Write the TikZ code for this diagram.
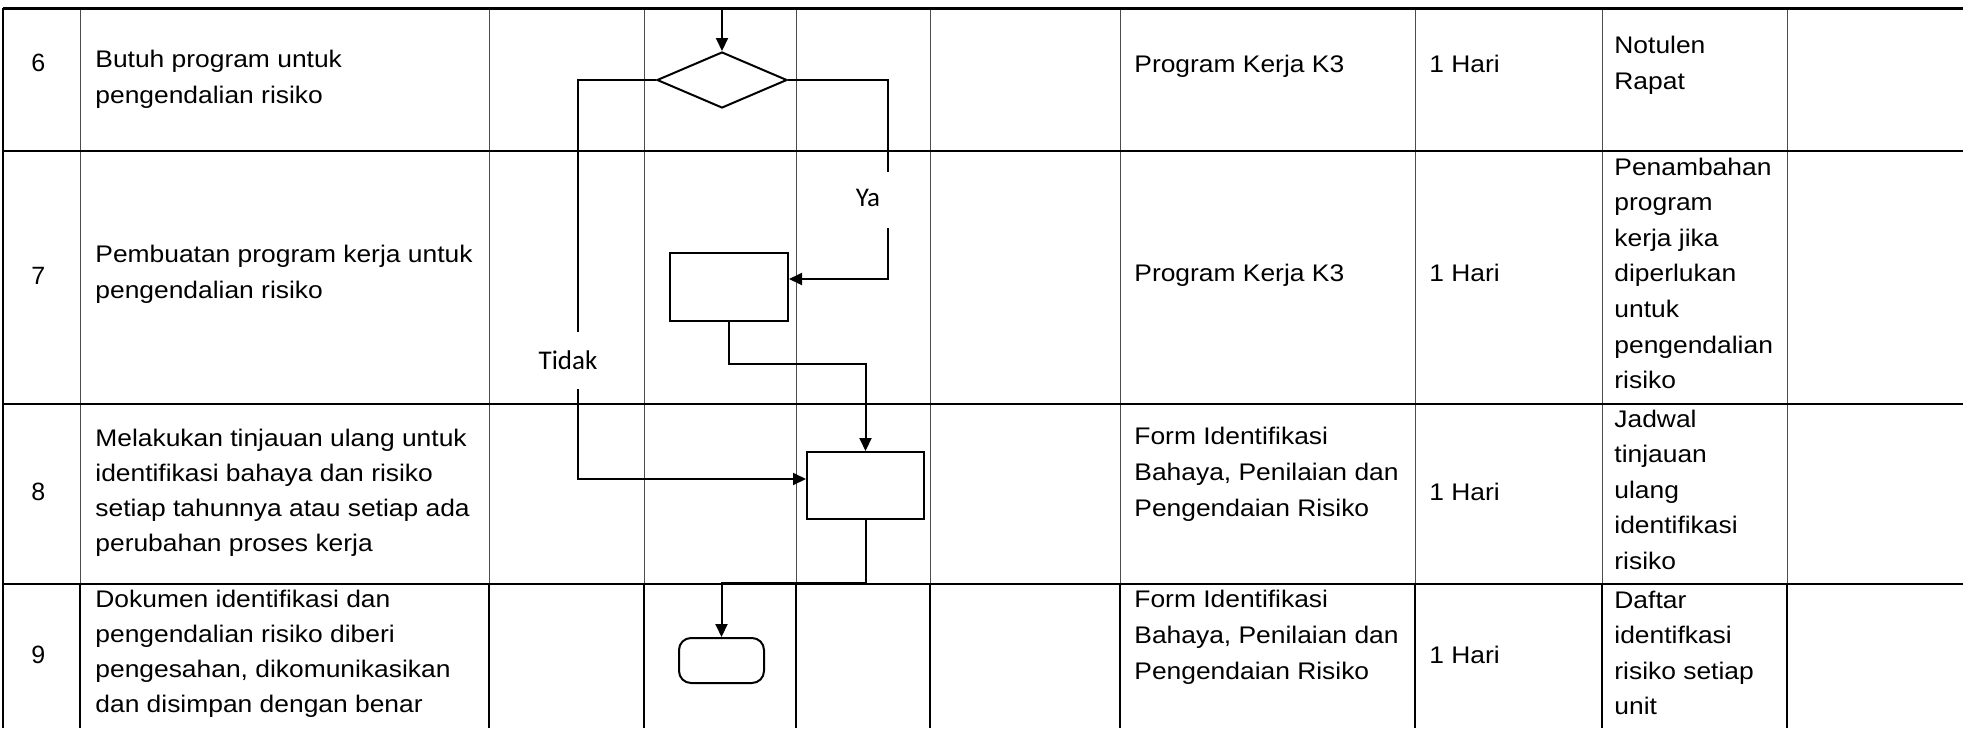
\documentclass[tikz,border=0pt]{standalone}
\usepackage{fontspec}
\setmainfont{Liberation Sans}[FakeStretch=1.1]
\newfontfamily\numfont{Liberation Sans}
\newfontfamily\lblfont{Carlito}
\usetikzlibrary{shapes.geometric,arrows.meta}
\begin{document}
\begin{tikzpicture}[x=0.5pt,y=-0.5pt,
  cell/.style={anchor=base west, inner sep=0, align=left, font=\fontsize{12}{17.8}\selectfont},
  cellB/.style={anchor=base west, inner sep=0, align=left, font=\fontsize{12}{17.5}\selectfont},
  num/.style={anchor=base west, inner sep=0, font=\numfont\fontsize{12.5}{15}\selectfont},
  lbl/.style={anchor=base, inner sep=0, font=\lblfont\fontsize{13.5}{16}\selectfont},
  procbox/.style={draw, line width=1pt, inner sep=0},
  decbox/.style={diamond, draw, line width=1pt, inner sep=0, minimum width=65pt, minimum height=28pt},
  termbox/.style={draw, line width=1pt, rounded corners=6pt, inner sep=0, minimum width=42.5pt, minimum height=22.5pt},
  conn/.style={line width=1pt},
  flow/.style={line width=1pt, -{Triangle[length=6.5pt,width=6pt]}},
  gridthin/.style={line width=0.5pt, black!70},
  gridthick/.style={line width=0.9pt, black}]
\useasboundingbox (0,0) rectangle (1963,728);

% ---- table grid ----
\foreach \x in {80,489,644,796,930,1120,1415,1602,1787} {
  \draw[gridthin] (\x,8) -- (\x,584);
  \draw[gridthick] (\x,584) -- (\x,728);
}
\draw[line width=1.5pt] (3,8) -- (1963,8);
\draw[line width=0.8pt] (3,151) -- (1963,151);
\draw[line width=1.1pt] (3,404) -- (1963,404);
\draw[line width=1.1pt] (3,584) -- (1963,584);
\draw[line width=1pt] (3,8) -- (3,728);

% ---- numbers ----
\node[num] (n6) at (31,71) {6};
\node[num] (n7) at (31,284) {7};
\node[num] (n8) at (31,500) {8};
\node[num] (n9) at (31,663) {9};

% ---- activity column (anchor = baseline of last line) ----
\node[cell] (a6) at (95,103) {Butuh program untuk\\pengendalian risiko};
\node[cell] (a7) at (95,298.5) {Pembuatan program kerja untuk\\pengendalian risiko};
\node[cellB] (a8) at (95,551) {Melakukan tinjauan ulang untuk\\identifikasi bahaya dan risiko\\setiap tahunnya atau setiap ada\\perubahan proses kerja};
\node[cellB] (a9) at (95,712) {Dokumen identifikasi dan\\pengendalian risiko diberi\\pengesahan, dikomunikasikan\\dan disimpan dengan benar};

% ---- document column ----
\node[cell] (f6) at (1134,72) {Program Kerja K3};
\node[cell] (f7) at (1134,281) {Program Kerja K3};
\node[cell] (f8) at (1134,516) {Form Identifikasi\\Bahaya, Penilaian dan\\Pengendaian Risiko};
\node[cell] (f9) at (1134,679) {Form Identifikasi\\Bahaya, Penilaian dan\\Pengendaian Risiko};

% ---- time column ----
\node[cell] (h6) at (1429,72) {1 Hari};
\node[cell] (h7) at (1429,281) {1 Hari};
\node[cell] (h8) at (1429,500) {1 Hari};
\node[cell] (h9) at (1429,663) {1 Hari};

% ---- output column ----
\node[cell] (o6) at (1614,89) {Notulen\\Rapat};
\node[cell] (o7) at (1614,388.6) {Penambahan\\program\\kerja jika\\diperlukan\\untuk\\pengendalian\\risiko};
\node[cell] (o8) at (1614,569.4) {Jadwal\\tinjauan\\ulang\\identifikasi\\risiko};
\node[cell] (o9) at (1614,714.8) {Daftar\\identifkasi\\risiko setiap\\unit};

% ---- flowchart ----
\coordinate (in) at (722,8);
\node[decbox] (d) at (722,80) {};
\node[procbox, minimum width=59pt, minimum height=34pt] (b1) at (729,287) {};
\node[procbox, minimum width=58.5pt, minimum height=33.5pt] (b2) at (865.5,485.5) {};
\node[termbox] (t) at (721.5,660.5) {};

\node[lbl] (ya) at (868,206.5) {Ya};
\node[lbl] (tidak) at (568,369) {Tidak};
\coordinate (yaTop) at (888,172);
\coordinate (yaBot) at (888,228);
\coordinate (tdTop) at (578,332);
\coordinate (tdBot) at (578,389);

\draw[flow] (in) -- (d.north);
\draw[conn] (d.east) -| (yaTop);
\draw[flow] (yaBot) |- ([yshift=4pt]b1.east);
\draw[conn] (d.west) -| (tdTop);
\draw[flow] (tdBot) |- ([yshift=3.25pt]b2.west);
\draw[flow] (b1.south) -- ++(0,42) -| (b2.north);
\draw[flow] (b2.south) -- ++(0,63) -| (t.north);
\end{tikzpicture}
\end{document}
